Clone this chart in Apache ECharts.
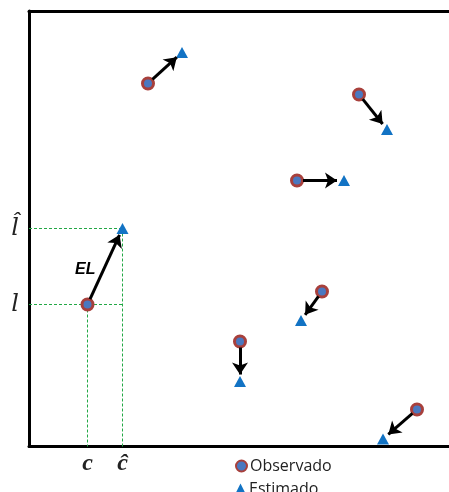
<!DOCTYPE html>
<html><head><meta charset="utf-8">
<script src="https://cdn.jsdelivr.net/npm/echarts@6/dist/echarts.min.js"></script>
<style>html,body{margin:0;padding:0;background:#fff}#c{width:449px;height:492px}</style>
</head><body><div id="c"></div>
<script>
// Data (in plot units: 1 unit ~ 1 pixel of the reference)
const obsX = [119, 330, 268, 58.5, 293, 211, 388];
const obsY = [363, 352, 266, 142, 155, 105, 37];
const estX = [153, 358, 315, 93.5, 272, 211, 354];
const estY = [394, 317, 266, 218, 126, 65, 7.5];
const seriesNames = ['Observado', 'Estimado'];
const xTickLabels = ['c', 'c\u0302'];
const yTickLabels = ['l', 'l\u0302'];
const highlightIdx = 3;
const arrowLabel = 'EL';

const obsData = obsX.map((x, i) => [x, obsY[i]]);
const estData = estX.map((x, i) => [x, estY[i]]);

const arrows = obsData.map((o, i) => {
  const e = estData[i];
  const dx = e[0] - o[0], dy = e[1] - o[1];
  const len = Math.hypot(dx, dy);
  const ux = dx / len, uy = dy / len;
  return { coords: [[o[0] + ux * 6, o[1] + uy * 6], [e[0] - ux * 7, e[1] - uy * 7]] };
});

const ho = obsData[highlightIdx], he = estData[highlightIdx];
const guides = [
  { coords: [[0, ho[1]], [he[0], ho[1]]] },
  { coords: [[ho[0], ho[1]], [ho[0], 0]] },
  { coords: [[0, he[1]], [he[0], he[1]]] },
  { coords: [[he[0], he[1]], [he[0], 0]] }
];

const legendText = { fontFamily: 'Open Sans', fontSize: 16, color: '#222', padding: [0, 0, 0, -2] };

const chart = echarts.init(document.getElementById('c'));
chart.setOption({
  animation: false,
  grid: { left: 29, top: 11, right: 0, bottom: 45.5 },
  xAxis: [{
    type: 'value', min: 0, max: 420,
    axisLine: { show: true, lineStyle: { color: '#000', width: 3 } },
    axisTick: { show: false }, splitLine: { show: false },
    axisLabel: {
      customValues: [ho[0], he[0]],
      formatter: v => (v === ho[0] ? xTickLabels[0] : xTickLabels[1]),
      fontFamily: 'Liberation Serif', fontStyle: 'italic', fontWeight: 'bold',
      fontSize: 24, color: '#222', margin: 5
    }
  }, {
    type: 'value', min: 0, max: 420, position: 'top',
    axisLine: { show: true, lineStyle: { color: '#000', width: 3 } },
    axisTick: { show: false }, splitLine: { show: false }, axisLabel: { show: false }
  }],
  yAxis: {
    type: 'value', min: 0, max: 435.5,
    axisLine: { show: true, lineStyle: { color: '#000', width: 3 } },
    axisTick: { show: false }, splitLine: { show: false },
    axisLabel: {
      customValues: [ho[1], he[1]],
      formatter: v => (v === ho[1] ? yTickLabels[0] : yTickLabels[1]),
      fontFamily: 'DejaVu Serif', fontStyle: 'italic',
      fontSize: 24, color: '#222', margin: 10
    }
  },
  legend: [{
    left: 230, top: 453, itemWidth: 11, itemHeight: 11,
    textStyle: legendText, data: [seriesNames[0]]
  }, {
    left: 230, top: 476, itemWidth: 11, itemHeight: 11,
    textStyle: legendText, data: [seriesNames[1]]
  }],
  graphic: [{
    type: 'text', left: 75, top: 262,
    style: { text: arrowLabel, font: 'italic bold 16px "Liberation Sans"', fill: '#000' }
  }],
  series: [
    {
      type: 'lines', coordinateSystem: 'cartesian2d', silent: true, z: 1,
      lineStyle: { color: '#22a845', width: 1, type: [3, 2], opacity: 1 },
      data: guides
    },
    {
      name: seriesNames[0], type: 'scatter', symbol: 'circle', symbolSize: 11, z: 3,
      itemStyle: { color: '#4a78c0', borderColor: '#a8403c', borderWidth: 3, opacity: 1 },
      data: obsData
    },
    {
      name: seriesNames[1], type: 'scatter', symbol: 'triangle', symbolSize: [12, 11], z: 3,
      itemStyle: { color: '#1273c4', opacity: 1 },
      data: estData
    },
    {
      type: 'lines', coordinateSystem: 'cartesian2d', silent: true, z: 4,
      symbol: ['none', 'arrow'], symbolSize: [11, 12],
      lineStyle: { color: '#000', width: 3, opacity: 1, curveness: 0 },
      data: arrows
    }
  ]
});
</script></body></html>
